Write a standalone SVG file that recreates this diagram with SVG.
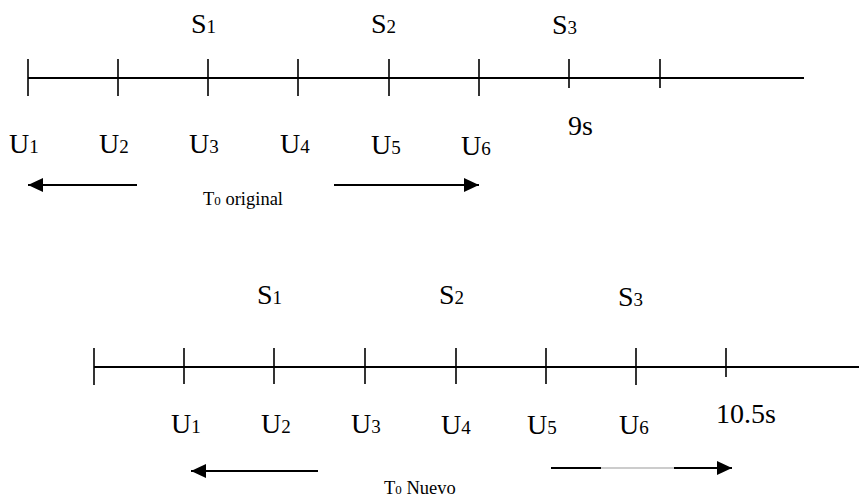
<svg xmlns="http://www.w3.org/2000/svg" width="859" height="500" viewBox="0 0 859 500">
<style>
.lb{font-size:28px}
.sm{font-size:18.5px}
.sub{font-size:19px}
.ssub{font-size:13px}
.ax{stroke:#000;stroke-width:2.2;fill:none}
.tk{stroke:#000;stroke-width:1.6;fill:none}
.ar{stroke:#000;stroke-width:1.8;fill:none}
.thin{stroke:#999;stroke-width:1;fill:none}
</style>
<defs>
<marker id="ah" markerWidth="16" markerHeight="14" refX="15" refY="7" orient="auto" markerUnits="userSpaceOnUse">
<path d="M0,0 L15,7 L0,14 Z" fill="#000"/>
</marker>
</defs>
<g id="timeline-original" font-family="'Liberation Serif', 'Times New Roman', 'DejaVu Serif', serif" fill="#000">
<line class="ax" x1="28" y1="78" x2="804" y2="78"/>
<line class="tk" x1="28" y1="59" x2="28" y2="96"/>
<line class="tk" x1="118" y1="59" x2="118" y2="96"/>
<line class="tk" x1="208" y1="59" x2="208" y2="96"/>
<line class="tk" x1="298" y1="59" x2="298" y2="96"/>
<line class="tk" x1="389" y1="59" x2="389" y2="96"/>
<line class="tk" x1="479" y1="59" x2="479" y2="96"/>
<line class="tk" x1="569" y1="59" x2="569" y2="88"/>
<line class="tk" x1="660" y1="59" x2="660" y2="88"/>
<text class="lb" x="191" y="33">S<tspan class="sub">1</tspan></text>
<text class="lb" x="371" y="33">S<tspan class="sub">2</tspan></text>
<text class="lb" x="552" y="34">S<tspan class="sub">3</tspan></text>
<text class="lb" x="9" y="153">U<tspan class="sub">1</tspan></text>
<text class="lb" x="99" y="153">U<tspan class="sub">2</tspan></text>
<text class="lb" x="189" y="153">U<tspan class="sub">3</tspan></text>
<text class="lb" x="280" y="153">U<tspan class="sub">4</tspan></text>
<text class="lb" x="371" y="154">U<tspan class="sub">5</tspan></text>
<text class="lb" x="461" y="155">U<tspan class="sub">6</tspan></text>
<text class="lb" x="568" y="135">9s</text>
<text class="sm" x="203" y="205">T<tspan class="ssub">0</tspan> original</text>
</g>
<g id="timeline-nuevo" font-family="'Liberation Serif', 'Times New Roman', 'DejaVu Serif', serif" fill="#000">
<line class="ax" x1="94" y1="367" x2="859" y2="367"/>
<line class="tk" x1="94" y1="348" x2="94" y2="385"/>
<line class="tk" x1="184" y1="348" x2="184" y2="384"/>
<line class="tk" x1="274" y1="348" x2="274" y2="384"/>
<line class="tk" x1="365" y1="348" x2="365" y2="384"/>
<line class="tk" x1="456" y1="348" x2="456" y2="384"/>
<line class="tk" x1="546" y1="348" x2="546" y2="384"/>
<line class="tk" x1="636" y1="348" x2="636" y2="385"/>
<line class="tk" x1="726" y1="348" x2="726" y2="377"/>
<text class="lb" x="257" y="304">S<tspan class="sub">1</tspan></text>
<text class="lb" x="439" y="304">S<tspan class="sub">2</tspan></text>
<text class="lb" x="618" y="306">S<tspan class="sub">3</tspan></text>
<text class="lb" x="171" y="433">U<tspan class="sub">1</tspan></text>
<text class="lb" x="261" y="433">U<tspan class="sub">2</tspan></text>
<text class="lb" x="351" y="433">U<tspan class="sub">3</tspan></text>
<text class="lb" x="441" y="434">U<tspan class="sub">4</tspan></text>
<text class="lb" x="527" y="434">U<tspan class="sub">5</tspan></text>
<text class="lb" x="619" y="434">U<tspan class="sub">6</tspan></text>
<text class="lb" x="716" y="423">10.5s</text>
<text class="sm" x="384" y="494">T<tspan class="ssub">0</tspan> Nuevo</text>
</g>
<g id="connectors">
<line class="ar" x1="137" y1="185" x2="28" y2="185" marker-end="url(#ah)"/>
<line class="ar" x1="334" y1="185" x2="479" y2="185" marker-end="url(#ah)"/>
<line class="ar" x1="318" y1="471" x2="191" y2="471" marker-end="url(#ah)"/>
<line class="ar" x1="551" y1="468" x2="601" y2="468"/>
<line class="thin" x1="601" y1="468" x2="674" y2="468"/>
<line class="ar" x1="674" y1="468" x2="732" y2="468" marker-end="url(#ah)"/>
</g>
</svg>
